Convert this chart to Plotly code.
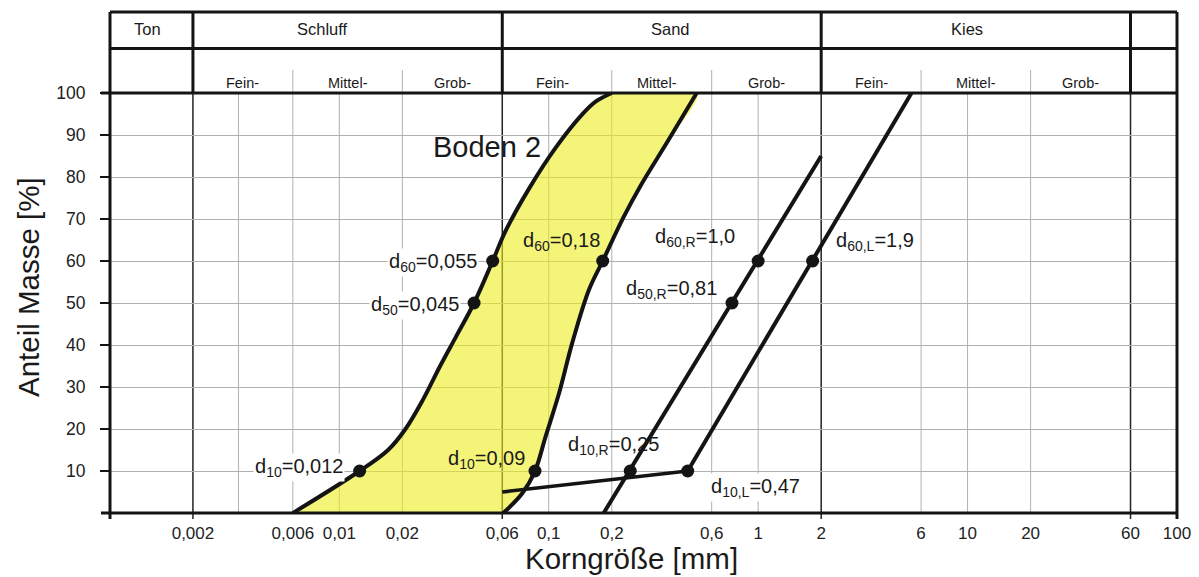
import math
import plotly.graph_objects as go

# ---------------- data ----------------
# Boden 2 band: fine-side (left) boundary curve, grain size [mm] / passing [%]
left_d = [0.006, 0.0125, 0.0171, 0.0207, 0.0251, 0.0303, 0.0361, 0.044, 0.054, 0.062, 0.08, 0.108, 0.1463, 0.168, 0.2]
left_p = [0, 10, 15, 20, 27, 35, 42, 50, 60, 67, 77, 87, 95.2, 98, 100]
# Boden 2 band: coarse-side (right) boundary curve
right_d = [0.0607, 0.0748, 0.086, 0.0966, 0.112, 0.1295, 0.1555, 0.181, 0.228, 0.275, 0.37, 0.509]
right_p = [0, 4.7, 10, 18.2, 28.5, 40.5, 53.1, 60, 70.5, 78, 88.5, 100]
# straight grading line "R"
lineR_d = [0.183, 2.0]
lineR_p = [0, 85]
# straight grading line "L"
lineL_d = [0.461, 5.4]
lineL_p = [10, 100]
# connecting segment from 0,06 mm to d10,L
link_d = [0.06, 0.461]
link_p = [5, 10]
# characteristic points
dot_d = [0.0125, 0.044, 0.054, 0.086, 0.181, 0.245, 0.75, 1.0, 0.461, 1.82]
dot_p = [10, 50, 60, 10, 60, 10, 50, 60, 10, 60]
dot_text = ["d<sub>10</sub>=0,012", "d<sub>50</sub>=0,045", "d<sub>60</sub>=0,055",
            "d<sub>10</sub>=0,09", "d<sub>60</sub>=0,18", "d<sub>10,R</sub>=0,25",
            "d<sub>50,R</sub>=0,81", "d<sub>60,R</sub>=1,0", "d<sub>10,L</sub>=0,47",
            "d<sub>60,L</sub>=1,9"]
# axes
x_ticks = [0.002, 0.006, 0.01, 0.02, 0.06, 0.1, 0.2, 0.6, 1, 2, 6, 10, 20, 60, 100]
x_labels = ["0,002", "0,006", "0,01", "0,02", "0,06", "0,1", "0,2", "0,6", "1", "2", "6", "10", "20", "60", "100"]
y_ticks = [10, 20, 30, 40, 50, 60, 70, 80, 90, 100]
y_labels = ["10", "20", "30", "40", "50", "60", "70", "80", "90", "100"]
# soil classes (header)
main_bounds = [0.002, 0.06, 2, 60]
sub_bounds = [0.006, 0.02, 0.2, 0.6, 6, 20]
extra_grid = [0.0033, 0.01, 0.1, 1, 10]
main_classes = ["Ton", "Schluff", "Sand", "Kies"]
sub_classes = ["Fein-", "Mittel-", "Grob-"]

# ---------------- layout constants ----------------
OFF = 8                      # page body margin of the html page
W, H = 1199 - OFF, 577 - OFF
PL, PR, PT, PB = 110, 1177, 93, 513   # plot area in page pixels
ML, MT = PL - OFF, PT - OFF
PW, PH = PR - PL, PB - PT
MR, MB = W - ML - PW, H - MT - PH
XR = [-3.095, 2.0001]
FONT = "Liberation Sans, Arial, Helvetica, sans-serif"
INK = "#141414"
GRID = "#b0b0b0"
TXT = "#1a1a1a"


def px(v):
    return (math.log10(v) - XR[0]) / (XR[1] - XR[0])


def py(pix):  # page pixel row -> paper y
    return (PB - pix) / PH


def pxp(pix):  # page pixel column -> paper x
    return (pix - PL) / PW


Y_TOP = py(12)
Y_ROW1 = py(48.5)
Y_SUB = py(70)
Y_BELOW = py(519)
X_LEFT_EXT = -9 / PW

fig = go.Figure()

# filled band
fig.add_trace(go.Scatter(
    x=left_d + right_d[::-1], y=left_p + right_p[::-1], mode="lines",
    fill="toself", fillcolor="rgba(236,236,30,0.6)",
    line=dict(width=0, shape="spline", smoothing=1), hoverinfo="skip"))
for xs, ys, w, shp in [(left_d, left_p, 4, "spline"), (right_d, right_p, 4, "spline"),
                       (lineR_d, lineR_p, 4, "linear"), (lineL_d, lineL_p, 4, "linear"),
                       (link_d, link_p, 3.5, "linear")]:
    fig.add_trace(go.Scatter(x=xs, y=ys, mode="lines",
                             line=dict(color=INK, width=w, shape=shp, smoothing=1),
                             hoverinfo="skip"))
fig.add_trace(go.Scatter(x=dot_d, y=dot_p, mode="markers",
                         marker=dict(color=INK, size=13), hoverinfo="skip", cliponaxis=False))

shapes = []


def vline(xp, y0, y1, color, width, layer="below"):
    shapes.append(dict(type="line", xref="paper", yref="paper", x0=xp, x1=xp, y0=y0, y1=y1,
                       line=dict(color=color, width=width), layer=layer))


def hline(yp, x0, x1, color, width):
    shapes.append(dict(type="line", xref="paper", yref="paper", x0=x0, x1=x1, y0=yp, y1=yp,
                       line=dict(color=color, width=width), layer="above"))


for v in extra_grid:
    vline(px(v), 0, 1, GRID, 1)
for v in sub_bounds:
    vline(px(v), 0, Y_SUB, GRID, 1)
for v in main_bounds:
    vline(px(v), Y_BELOW, 1, "#222222", 1.5)
    vline(px(v), 1, Y_TOP, INK, 3, "above")
vline(0, Y_BELOW, Y_TOP, INK, 3, "above")
vline(1, Y_BELOW, Y_TOP, INK, 3, "above")
hline(Y_TOP, 0, 1, INK, 3)
hline(Y_ROW1, 0, 1, INK, 3)
hline(1, X_LEFT_EXT, 1, INK, 3)
hline(0, X_LEFT_EXT, 1, INK, 3)

annotations = []


def note(text, x, y, size, xanchor="center", textangle=0):
    annotations.append(dict(text=text, xref="paper", yref="paper", x=x, y=y, showarrow=False,
                            xanchor=xanchor, yanchor="middle", textangle=textangle,
                            font=dict(size=size, color=TXT, family=FONT)))


# header row 1
row1_pos = [pxp(147), pxp(322), pxp(670), pxp(967)]
for name, xp in zip(main_classes, row1_pos):
    note(name, xp, py(29), 16.5)
# header row 2
for a, b in [(0.002, 0.06), (0.06, 2), (2, 60)]:
    edges = [a, a * 3, a * 10, b]
    for i, name in enumerate(sub_classes):
        note(name, (px(edges[i]) + px(edges[i + 1])) / 2, py(83), 14.5)

# point labels: (anchor, xshift, yshift, white box)
placements = [("right", -15, 4, True), ("right", -13, -2, True), ("right", -14, -1, True),
              ("right", -8, 12, False), ("right", -1, 20, False), ("center", -17, 26, False),
              ("right", -13, 14, False), ("right", -21, 24, False), ("left", 21, -16, True),
              ("left", 21, 20, True)]
for d, p, t, (anc, xs, ys, bg) in zip(dot_d, dot_p, dot_text, placements):
    ann = dict(text=t, xref="x", yref="y", x=math.log10(d), y=p, showarrow=False,
               xanchor=anc, yanchor="middle", xshift=xs, yshift=ys,
               font=dict(size=20, color=TXT, family=FONT), borderpad=1)
    if bg:
        ann["bgcolor"] = "white"
    annotations.append(ann)

note("Boden 2", pxp(487), py(147), 29)
note("Korngröße [mm]", pxp(631), py(558), 29.5)
note("Anteil Masse [%]", pxp(28), py(287), 29.5, textangle=-90)

fig.update_layout(
    width=W, height=H, margin=dict(l=ML, r=MR, t=MT, b=MB, autoexpand=False),
    paper_bgcolor="white", plot_bgcolor="white", showlegend=False,
    font=dict(family=FONT, color="#222"),
    shapes=shapes, annotations=annotations,
    xaxis=dict(type="log", range=XR, tickvals=x_ticks, ticktext=x_labels, showgrid=False,
               zeroline=False, showline=False, ticks="", tickfont=dict(size=17, color="#222"),
               ticklabelstandoff=8, automargin=False, fixedrange=True),
    yaxis=dict(range=[0, 100], tickvals=y_ticks, ticktext=y_labels, showgrid=True, gridcolor=GRID,
               gridwidth=1, zeroline=False, showline=False, ticks="outside", ticklen=9, tickwidth=2,
               tickcolor=INK, tickfont=dict(size=17.5, color="#222"), ticklabelstandoff=11,
               automargin=False, fixedrange=True),
)

fig.write_html("out.html")
